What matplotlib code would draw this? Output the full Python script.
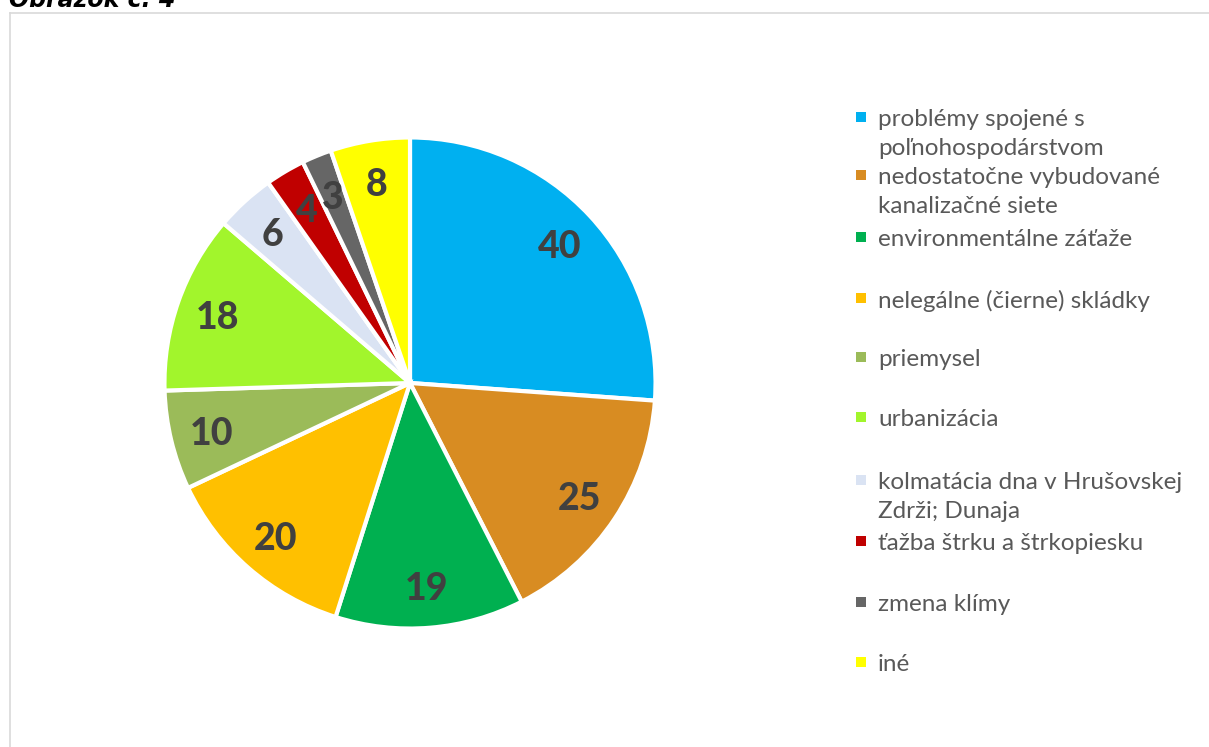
import matplotlib
matplotlib.use('Agg')
import matplotlib.pyplot as plt
from matplotlib.lines import Line2D
from matplotlib.patches import Rectangle

plt.rcParams['font.family'] = ['Lato', 'DejaVu Sans']

# data
categories = ['problémy spojené s\npoľnohospodárstvom',
              'nedostatočne vybudované\nkanalizačné siete',
              'environmentálne záťaže',
              'nelegálne (čierne) skládky',
              'priemysel',
              'urbanizácia',
              'kolmatácia dna v Hrušovskej\nZdrži; Dunaja',
              'ťažba štrku a štrkopiesku',
              'zmena klímy',
              'iné']
values = [40, 25, 19, 20, 10, 18, 6, 4, 3, 8]
colors = ['#00B0F0', '#D88C22', '#00B050', '#FFC000', '#9BBB59',
          '#A2F52C', '#DAE3F3', '#C00000', '#666666', '#FFFF00']

W, H = 1209, 747
fig = plt.figure(figsize=(W / 100, H / 100), dpi=100)

# chart frame (only left and top edges visible)
fig.add_artist(Line2D([10 / W, 10 / W], [0, 1 - 13 / H], color='#D9D9D9', lw=1.2))
fig.add_artist(Line2D([10 / W, 1], [1 - 13 / H, 1 - 13 / H], color='#D9D9D9', lw=1.2))

# caption, cut off at the top of the picture
fig.text(9 / W, 1 - 7 / H, 'Obrázok č. 4', fontsize=17, fontweight='bold',
         style='italic', color='black', va='baseline', ha='left',
         family=['DejaVu Sans'])

cx, cy, r = 410, 383, 248
ax = fig.add_axes([(cx - r) / W, (H - cy - r) / H, 2 * r / W, 2 * r / H])
total = sum(values)
wedges, texts, autotexts = ax.pie(
    values, colors=colors, startangle=90, counterclock=False,
    autopct=lambda p: '%d' % round(p * total / 100.0), pctdistance=0.83,
    wedgeprops=dict(edgecolor='white', linewidth=3),
    textprops=dict(fontsize=27, fontweight='black', color='#404040'))
for t in autotexts:
    t.set_va('center_baseline')
ax.set_xlim(-1.01, 1.01)
ax.set_ylim(-1.01, 1.01)
ax.set_aspect('equal')
ax.axis('off')

# legend drawn by hand to keep Excel's uneven spacing
leg_y = [117, 175, 237, 298, 357, 417, 480, 541, 602, 662]
for lab, col, y in zip(categories, colors, leg_y):
    fig.add_artist(Rectangle((856 / W, 1 - (y + 5) / H), 10 / W, 10 / H,
                             facecolor=col, edgecolor='none'))
    fig.text(878 / W, 1 - (y - 8) / H, lab, fontsize=17.5, color='#595959',
             va='top', ha='left', linespacing=1.45)

fig.savefig('out.png', dpi=100)
